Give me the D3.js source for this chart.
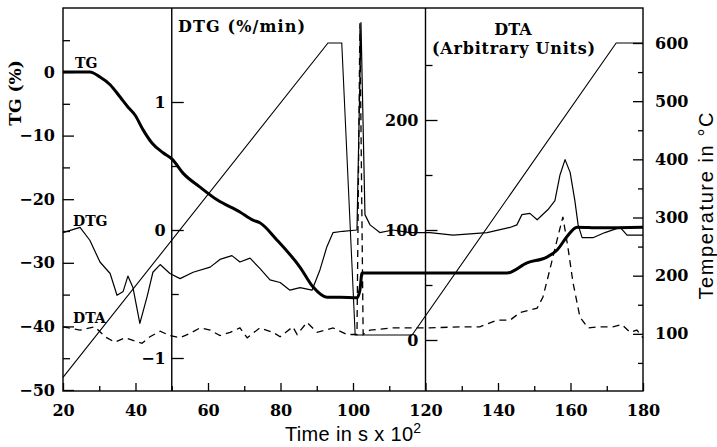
<!DOCTYPE html>
<html>
<head>
<meta charset="utf-8">
<script src="https://cdn.jsdelivr.net/npm/d3@7"></script>
<style>
  body { margin: 0; background: #fff; }
  svg text { font-family: 'DejaVu Serif', serif; font-weight: bold; fill: #000; }
  svg text.sans { font-family: 'Liberation Sans', Arial, sans-serif; font-weight: normal; }
</style>
</head>
<body>
<div id="chart"></div>
<script>
// time in s x 10^2
const timeTicks = [20, 40, 60, 80, 100, 120, 140, 160, 180]
const tgTicks = [0, -10, -20, -30, -40, -50]
const dtgTicks = [1, 0, -1]
const dtaTicks = [0, 100, 200]
const tempTicks = [100, 200, 300, 400, 500, 600]

// TG (%)
const tgTime = [20, 27.4, 30.2, 33.0, 35.7, 37.9, 39.9, 42.1, 44.6, 47.6, 50.1, 53.1, 57.8, 62.5, 68.8, 72.4, 74.3,
  79.0, 85.4, 89.0, 92.8, 96.4, 101.1, 101.9, 102.5, 142.5, 148.0, 153.5, 156.3, 159.0, 161.8, 168.1, 180]
const tgValue = [0, 0, -0.8, -2.0, -3.9, -5.5, -6.8, -9.1, -11.2, -12.7, -13.7, -15.9, -18.1, -20.1, -22.0, -23.3, -23.7,
  -26.4, -30.7, -33.8, -35.4, -35.4, -35.5, -34.3, -31.6, -31.6, -30.0, -29.1, -28.0, -25.9, -24.4, -24.5, -24.4]

// DTG (%/min)
const dtgTime = [20, 24.7, 27.4, 30.2, 33.0, 34.9, 36.6, 37.9, 39.3, 41.2, 43.2, 44.8, 46.8, 49.5, 52.3, 55.9, 60.6,
  63.3, 66.6, 68.8, 71.6, 74.3, 77.1, 79.9, 82.6, 85.4, 88.7, 90.9, 92.8, 94.5, 97.2, 101.1, 102.2, 103.3, 104.7,
  107.4, 111.0, 115.7, 121.2, 127.6, 137.0, 143.3, 145.2, 146.6, 148.8, 150.8, 153.8, 155.7, 157.1, 158.5, 159.9,
  161.2, 162.1, 163.2, 166.2, 169.5, 173.7, 175.6, 180]
const dtgValue = [-0.02, 0.02, -0.08, -0.25, -0.34, -0.51, -0.48, -0.36, -0.45, -0.73, -0.52, -0.33, -0.27, -0.34,
  -0.38, -0.33, -0.29, -0.23, -0.2, -0.25, -0.22, -0.3, -0.39, -0.41, -0.47, -0.45, -0.47, -0.31, -0.13, -0.02,
  -0.01, 0, 1.62, 0.12, 0.04, -0.02, 0, -0.02, -0.02, -0.04, -0.02, 0.02, 0.04, 0.12, 0.13, 0.08, 0.16, 0.23, 0.43,
  0.55, 0.45, 0.23, 0.04, -0.06, -0.06, -0.02, 0.02, -0.04, -0.04]

// DTA (arbitrary units)
const dtaTime = [20, 24.7, 28.8, 31.6, 34.3, 37.1, 39.9, 41.8, 44.0, 46.8, 49.5, 52.3, 55.0, 57.8, 60.6, 63.3, 66.1,
  68.8, 70.8, 74.3, 77.9, 79.9, 83.4, 84.6, 87.3, 90.1, 94.5, 98.3, 101.1, 101.9, 102.8, 104.7, 111.0, 116.6, 121.2,
  129.5, 135.0, 139.7, 143.3, 146.1, 150.8, 152.4, 154.3, 156.3, 157.9, 159.3, 160.7, 162.6, 164.8, 168.1, 171.7,
  174.2, 176.4, 178.3, 180]
const dtaValue = [12, 9, 12, 3, -2, 2, -1, -3, 3, 8, 4, 2, 6, 11, 9, 4, 7, 11, 2, 11, 7, 3, 12, 5, 16, 7, 11, 5, 5,
  288, 5, 9, 11, 11, 11, 12, 12, 18, 18, 25, 29, 39, 64, 91, 112, 84, 52, 21, 11, 12, 12, 14, 7, 9, 2]

// Temperature (°C)
const tempTime = [20, 93.1, 96.9, 100.6, 116.3, 172.6, 180]
const tempValue = [25, 600, 600, 98, 98, 600, 600]

const width = 717
const height = 447
const plotLeft = 63
const plotRight = 643
const plotTop = 8
const plotBottom = 391

const svg = d3.select('#chart').append('svg')
  .attr('width', width)
  .attr('height', height)

const x = d3.scaleLinear().domain([20, 180]).range([plotLeft, plotRight])
const yTG = d3.scaleLinear().domain([0, -50]).range([72, 390])
const yDTG = d3.scaleLinear().domain([0, 1]).range([230, 102])
const yDTA = d3.scaleLinear().domain([0, 200]).range([340, 120])
const yTemp = d3.scaleLinear().domain([0, 600]).range([392, 43])

const noDomain = g => g.select('.domain').remove()
const tickStyle = g => g.selectAll('.tick line').attr('stroke', '#000').attr('stroke-width', 1.3)
const labelStyle = g => g.selectAll('.tick text').attr('font-size', 16)

// frame and divider lines
const frame = svg.append('g').attr('stroke', '#000').attr('stroke-width', 1.4).attr('fill', 'none')
frame.append('rect')
  .attr('x', plotLeft).attr('y', plotTop)
  .attr('width', plotRight - plotLeft).attr('height', plotBottom - plotTop)
frame.selectAll('line.divider')
  .data([50, 120])
  .enter().append('line')
  .attr('class', 'divider')
  .attr('x1', d => x(d)).attr('x2', d => x(d))
  .attr('y1', plotTop).attr('y2', plotBottom)

// x axis (ticks pointing up)
svg.append('g')
  .attr('transform', 'translate(0,' + plotBottom + ')')
  .call(d3.axisBottom(x).tickValues(d3.range(30, 180, 20)).tickSize(-5).tickFormat(''))
  .call(noDomain).call(tickStyle)
svg.append('g')
  .attr('transform', 'translate(0,' + plotBottom + ')')
  .call(d3.axisBottom(x).tickValues(timeTicks).tickSize(-8).tickPadding(14).tickFormat(d3.format('d')))
  .call(noDomain).call(tickStyle).call(labelStyle)

// TG axis
svg.append('g')
  .attr('transform', 'translate(' + plotLeft + ',0)')
  .call(d3.axisLeft(yTG).tickValues([5, -5, -15, -25, -35, -45]).tickSize(-7).tickFormat(''))
  .call(noDomain).call(tickStyle)
svg.append('g')
  .attr('transform', 'translate(' + plotLeft + ',0)')
  .call(d3.axisLeft(yTG).tickValues(tgTicks).tickSize(-11).tickPadding(8).tickFormat(d3.format('d')))
  .call(noDomain).call(tickStyle).call(labelStyle)

// DTG axis
svg.append('g')
  .attr('transform', 'translate(' + x(50) + ',0)')
  .call(d3.axisLeft(yDTG).tickValues([0.5, -0.5]).tickSize(-7).tickFormat(''))
  .call(noDomain).call(tickStyle)
svg.append('g')
  .attr('transform', 'translate(' + x(50) + ',0)')
  .call(d3.axisLeft(yDTG).tickValues(dtgTicks).tickSize(-12).tickPadding(6).tickFormat(d3.format('d')))
  .call(noDomain).call(tickStyle).call(labelStyle)

// DTA axis
svg.append('g')
  .attr('transform', 'translate(' + x(120) + ',0)')
  .call(d3.axisLeft(yDTA).tickValues([50, 150, 250]).tickSize(-7).tickFormat(''))
  .call(noDomain).call(tickStyle)
svg.append('g')
  .attr('transform', 'translate(' + x(120) + ',0)')
  .call(d3.axisLeft(yDTA).tickValues(dtaTicks).tickSize(-12).tickPadding(7).tickFormat(d3.format('d')))
  .call(noDomain).call(tickStyle).call(labelStyle)

// temperature axis (right)
svg.append('g')
  .attr('transform', 'translate(' + plotRight + ',0)')
  .call(d3.axisRight(yTemp).tickValues(d3.range(50, 600, 100)).tickSize(-5).tickFormat(''))
  .call(noDomain).call(tickStyle)
svg.append('g')
  .attr('transform', 'translate(' + plotRight + ',0)')
  .call(d3.axisRight(yTemp).tickValues(tempTicks).tickSize(-10).tickPadding(12).tickFormat(d3.format('d')))
  .call(noDomain).call(tickStyle).call(labelStyle)

// curves
const plot = svg.append('g').attr('fill', 'none').attr('stroke', '#000')

plot.append('path')
  .datum(d3.zip(tempTime, tempValue))
  .attr('stroke-width', 1.1)
  .attr('d', d3.line().x(d => x(d[0])).y(d => yTemp(d[1])))

plot.append('path')
  .datum(d3.zip(dtaTime, dtaValue))
  .attr('stroke-width', 1.3)
  .attr('stroke-dasharray', '7,5')
  .attr('d', d3.line().x(d => x(d[0])).y(d => yDTA(d[1])))

plot.append('path')
  .datum(d3.zip(dtgTime, dtgValue))
  .attr('stroke-width', 1.2)
  .attr('stroke-linejoin', 'round')
  .attr('d', d3.line().x(d => x(d[0])).y(d => yDTG(d[1])))

plot.append('path')
  .datum(d3.zip(tgTime, tgValue))
  .attr('stroke-width', 3)
  .attr('d', d3.line().curve(d3.curveMonotoneX).x(d => x(d[0])).y(d => yTG(d[1])))

// curve labels
svg.append('text').attr('x', 75).attr('y', 68).attr('font-size', 14).text('TG')
svg.append('text').attr('x', 73).attr('y', 226).attr('font-size', 14).text('DTG')
svg.append('text').attr('x', 73).attr('y', 323).attr('font-size', 14).text('DTA')

// panel titles
svg.append('text').attr('x', 178).attr('y', 32).attr('font-size', 16)
  .attr('textLength', 127).attr('lengthAdjust', 'spacing')
  .text('DTG (%/min)')
svg.append('text').attr('x', 513).attr('y', 35).attr('font-size', 16)
  .attr('text-anchor', 'middle')
  .text('DTA')
svg.append('text').attr('x', 432).attr('y', 54).attr('font-size', 16)
  .attr('textLength', 163).attr('lengthAdjust', 'spacing')
  .text('(Arbitrary Units)')

// axis titles
svg.append('text')
  .attr('transform', 'translate(21,93) rotate(-90)')
  .attr('text-anchor', 'middle')
  .attr('font-size', 17)
  .text('TG (%)')

svg.append('text')
  .attr('class', 'sans')
  .attr('transform', 'translate(713,206) rotate(-90)')
  .attr('text-anchor', 'middle')
  .attr('font-size', 20)
  .attr('textLength', 187).attr('lengthAdjust', 'spacing')
  .text('Temperature in °C')

const xTitle = svg.append('text')
  .attr('class', 'sans')
  .attr('x', 285).attr('y', 441)
  .attr('font-size', 20)
xTitle.append('tspan').attr('textLength', 128).attr('lengthAdjust', 'spacing').text('Time in s x 10')
xTitle.append('tspan').attr('dy', -8).attr('font-size', 14).text('2')
</script>
</body>
</html>
